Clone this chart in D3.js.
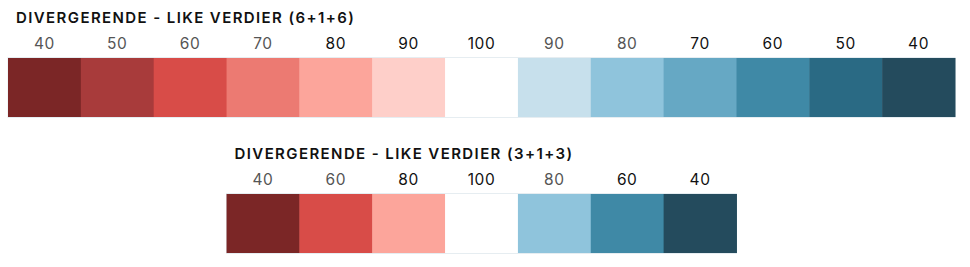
<!DOCTYPE html>
<html>
<head>
<meta charset="utf-8">
<script src="https://cdn.jsdelivr.net/npm/d3@7"></script>
<style>
  body { margin: 0; background: #fff; }
  svg { display: block; font-family: Inter, "Open Sans", sans-serif; }
</style>
</head>
<body>
<svg id="chart"></svg>
<script>
// palette 6+1+6
const labels13 = [40, 50, 60, 70, 80, 90, 100, 90, 80, 70, 60, 50, 40];
const colors13 = ["#7b2626", "#a83b3b", "#d84c48", "#ec7a72", "#fca59b", "#fecfc9", "#ffffff",
                  "#c7e0ec", "#8fc4dc", "#66a8c4", "#3f89a6", "#2a6a84", "#244b5d"];
const dark13 = [false, false, false, false, true, true, true, false, false, true, true, true, true];

// palette 3+1+3
const labels7 = [40, 60, 80, 100, 80, 60, 40];
const colors7 = ["#7b2626", "#d84c48", "#fca59b", "#ffffff", "#8fc4dc", "#3f89a6", "#244b5d"];
const dark7 = [false, false, true, true, false, true, true];

const width = 970, height = 267;
const svg = d3.select("#chart").attr("width", width).attr("height", height);

const cellW = 947 / 13;

function drawPalette(title, labels, colors, dark, x0, y0) {
  const g = svg.append("g").attr("transform", `translate(${x0},${y0})`);
  const x = d3.scaleBand()
    .domain(d3.range(labels.length))
    .range([0, cellW * labels.length])
    .paddingInner(0).paddingOuter(0);

  g.append("text")
    .attr("x", 8)
    .attr("y", -35)
    .attr("font-size", 15)
    .attr("font-weight", 600)
    .attr("letter-spacing", 1.4)
    .attr("fill", "#111")
    .text(title);

  g.selectAll("text.lbl")
    .data(labels)
    .enter().append("text")
      .attr("class", "lbl")
      .attr("x", (d, i) => x(i) + x.bandwidth() / 2)
      .attr("y", -9)
      .attr("text-anchor", "middle")
      .attr("font-size", 15.5)
      .attr("letter-spacing", 0.6)
      .attr("fill", (d, i) => dark[i] ? "#111" : "#555")
      .text(d => d);

  g.append("rect")
    .attr("x", 0).attr("y", -0.5)
    .attr("width", x.range()[1]).attr("height", 60)
    .attr("fill", "none")
    .attr("stroke", "#e6edf1");

  g.selectAll("rect.cell")
    .data(colors)
    .enter().append("rect")
      .attr("class", "cell")
      .attr("x", (d, i) => x(i))
      .attr("y", 0)
      .attr("width", x.bandwidth() + 0.5)
      .attr("height", 59)
      .attr("fill", d => d);
}

drawPalette("DIVERGERENDE - LIKE VERDIER (6+1+6)", labels13, colors13, dark13, 8, 58);
drawPalette("DIVERGERENDE - LIKE VERDIER (3+1+3)", labels7, colors7, dark7, 8 + 3 * cellW, 194);
</script>
</body>
</html>
